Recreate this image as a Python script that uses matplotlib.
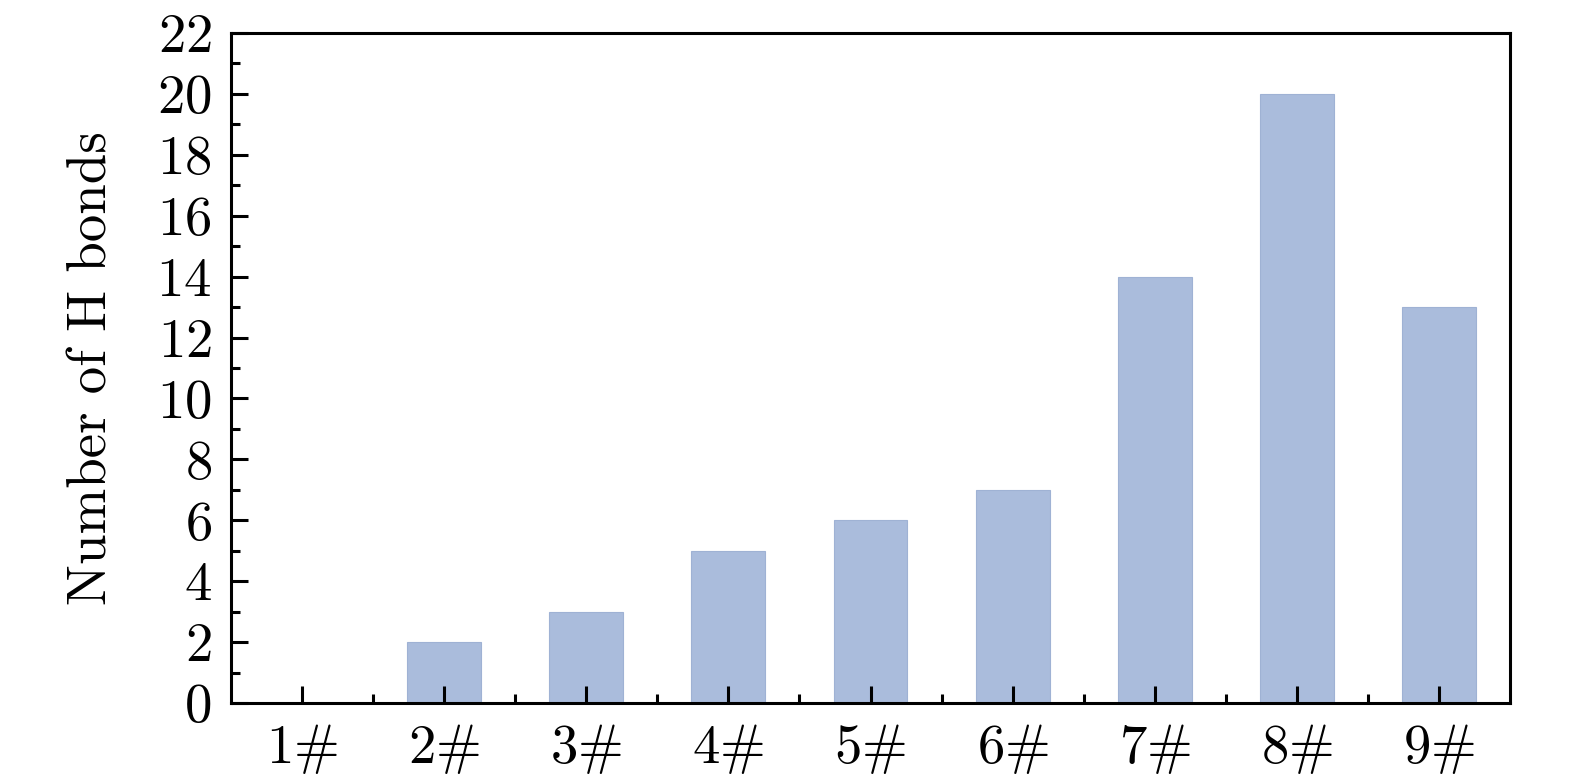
import matplotlib
matplotlib.use('Agg')
import matplotlib.pyplot as plt
from matplotlib.ticker import MultipleLocator, FixedLocator

plt.rcParams['font.family'] = 'cmr10'
plt.rcParams['mathtext.fontset'] = 'cm'
plt.rcParams['axes.formatter.use_mathtext'] = True

# data
samples = ['1', '2', '3', '4', '5', '6', '7', '8', '9']
h_bonds = [0, 2, 3, 5, 6, 7, 14, 20, 13]
labels = [r'$%s\#$' % s for s in samples]

fig = plt.figure(figsize=(15.75, 7.78), dpi=100)
ax = fig.add_axes([0.1467, 0.0964, 0.8120, 0.8612])

x = list(range(len(samples)))
ax.bar(x, h_bonds, width=0.52, color='#aabcdc', edgecolor='#9fb2d4', linewidth=0.8)

ax.set_xlim(-0.5, len(samples) - 0.5)
ax.set_ylim(0, 22)
ax.set_xticks(x)
ax.set_xticklabels(labels)
ax.xaxis.set_minor_locator(FixedLocator([i + 0.5 for i in x[:-1]]))
ax.yaxis.set_major_locator(MultipleLocator(2))
ax.yaxis.set_minor_locator(MultipleLocator(1))

for s in ax.spines.values():
    s.set_linewidth(2.2)
ax.tick_params(which='both', direction='in', top=False, right=False, width=2.2, labelsize=39.5, pad=14)
ax.tick_params(which='major', length=12)
ax.tick_params(which='minor', length=6.5)
ax.tick_params(axis='x', which='major', pad=14)

ax.set_ylabel('Number of H bonds', fontsize=39.5, labelpad=28)

fig.savefig('out.png', dpi=100)
